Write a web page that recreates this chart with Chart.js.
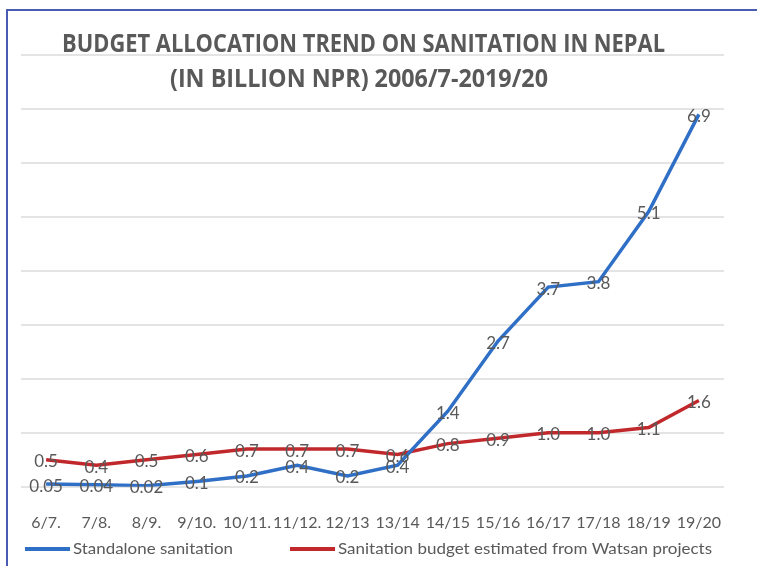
<!DOCTYPE html>
<html>
<head>
<meta charset="utf-8">
<script src="https://cdn.jsdelivr.net/npm/chart.js@4.4.0/dist/chart.umd.min.js"></script>
<style>
  html, body { margin: 0; padding: 0; background: #fff; }
  #wrap { width: 757px; height: 566px; position: relative; }
</style>
</head>
<body>
<div id="wrap"><canvas id="budgetChart"></canvas></div>
<script>
// budget in billion NPR, fiscal years 2006/7 - 2019/20
const years = ['6/7.', '7/8.', '8/9.', '9/10.', '10/11.', '11/12.', '12/13', '13/14', '14/15', '15/16', '16/17', '17/18', '18/19', '19/20'];
const standalone = [0.05, 0.04, 0.02, 0.1, 0.2, 0.4, 0.2, 0.4, 1.4, 2.7, 3.7, 3.8, 5.1, 6.9];
const watsan = [0.5, 0.4, 0.5, 0.6, 0.7, 0.7, 0.7, 0.6, 0.8, 0.9, 1.0, 1.0, 1.1, 1.6];
const seriesNames = ['Standalone sanitation', 'Sanitation budget estimated from Watsan projects'];
const titleLines = ['BUDGET ALLOCATION TREND ON SANITATION IN NEPAL', '(IN BILLION NPR) 2006/7-2019/20'];

const grey = '#595959';
const blue = '#2f6fc6';
const red = '#c0282b';

function fmt(v) {
    return (v > 0 && v < 0.1) ? v.toFixed(2) : v.toFixed(1);
}

// draw text squeezed/stretched to a given width
function fitText(ctx, text, x, y, width) {
    const w = ctx.measureText(text).width;
    ctx.save();
    ctx.translate(x, y);
    ctx.scale(width / w, 1);
    ctx.fillText(text, 0, 0);
    ctx.restore();
}

const extras = {
    id: 'extras',
    beforeDraw(chart) {
        const ctx = chart.ctx;
        ctx.save();
        ctx.fillStyle = '#fff';
        ctx.fillRect(0, 0, chart.width, chart.height);
        ctx.restore();
    },
    afterDatasetsDraw(chart) {
        // value labels sit right on the points
        const ctx = chart.ctx;
        ctx.save();
        ctx.font = '17px Lato';
        ctx.fillStyle = grey;
        ctx.textAlign = 'center';
        ctx.textBaseline = 'middle';
        chart.data.datasets.forEach((ds, i) => {
            chart.getDatasetMeta(i).data.forEach((pt, j) => {
                ctx.fillText(fmt(ds.data[j]), pt.x, pt.y + 2);
            });
        });
        ctx.restore();
    },
    afterDraw(chart) {
        const ctx = chart.ctx;
        ctx.save();
        // title
        ctx.fillStyle = grey;
        ctx.font = 'bold 25px "Open Sans"';
        ctx.textAlign = 'left';
        ctx.textBaseline = 'middle';
        fitText(ctx, titleLines[0], 62, 45, 603);
        fitText(ctx, titleLines[1], 170, 80, 378);

        // legend
        const legend = [[25, 73, 160], [290, 338, 374]];
        ctx.font = '16px Lato';
        chart.data.datasets.forEach((ds, i) => {
            const [lx, tx, tw] = legend[i];
            ctx.strokeStyle = ds.borderColor;
            ctx.lineWidth = 4;
            ctx.beginPath();
            ctx.moveTo(lx, 549);
            ctx.lineTo(lx + 45, 549);
            ctx.stroke();
            ctx.fillStyle = grey;
            fitText(ctx, ds.label, tx, 549, tw);
        });

        // outer frame
        ctx.strokeStyle = '#4a5cb2';
        ctx.lineWidth = 2;
        ctx.beginPath();
        ctx.moveTo(7, chart.height);
        ctx.lineTo(7, 10);
        ctx.lineTo(chart.width, 10);
        ctx.stroke();
        ctx.restore();
    }
};

window.addEventListener('DOMContentLoaded', () => {
    const ctx = document.getElementById('budgetChart').getContext('2d');
    new Chart(ctx, {
        type: 'line',
        data: {
            labels: years,
            datasets: [{
                label: seriesNames[0],
                data: standalone,
                borderColor: blue,
                borderWidth: 3.5,
                pointRadius: 0,
                tension: 0
            }, {
                label: seriesNames[1],
                data: watsan,
                borderColor: red,
                borderWidth: 3.5,
                pointRadius: 0,
                tension: 0
            }]
        },
        options: {
            responsive: true,
            maintainAspectRatio: false,
            animation: false,
            layout: {
                padding: { left: 21, right: 33, top: 55, bottom: 8 }
            },
            plugins: {
                legend: { display: false },
                title: { display: false },
                tooltip: { enabled: false }
            },
            scales: {
                x: {
                    offset: true,
                    grid: { display: false, drawTicks: false },
                    border: { display: false },
                    ticks: {
                        color: grey,
                        font: { family: 'Lato', size: 16 },
                        padding: 26,
                        maxRotation: 0,
                        autoSkip: false
                    }
                },
                y: {
                    min: 0,
                    max: 8,
                    grid: { color: '#e4e4e4', lineWidth: 2, drawTicks: false },
                    border: { display: false },
                    ticks: { display: false, stepSize: 1 }
                }
            }
        },
        plugins: [extras]
    });
});
</script>
</body>
</html>
